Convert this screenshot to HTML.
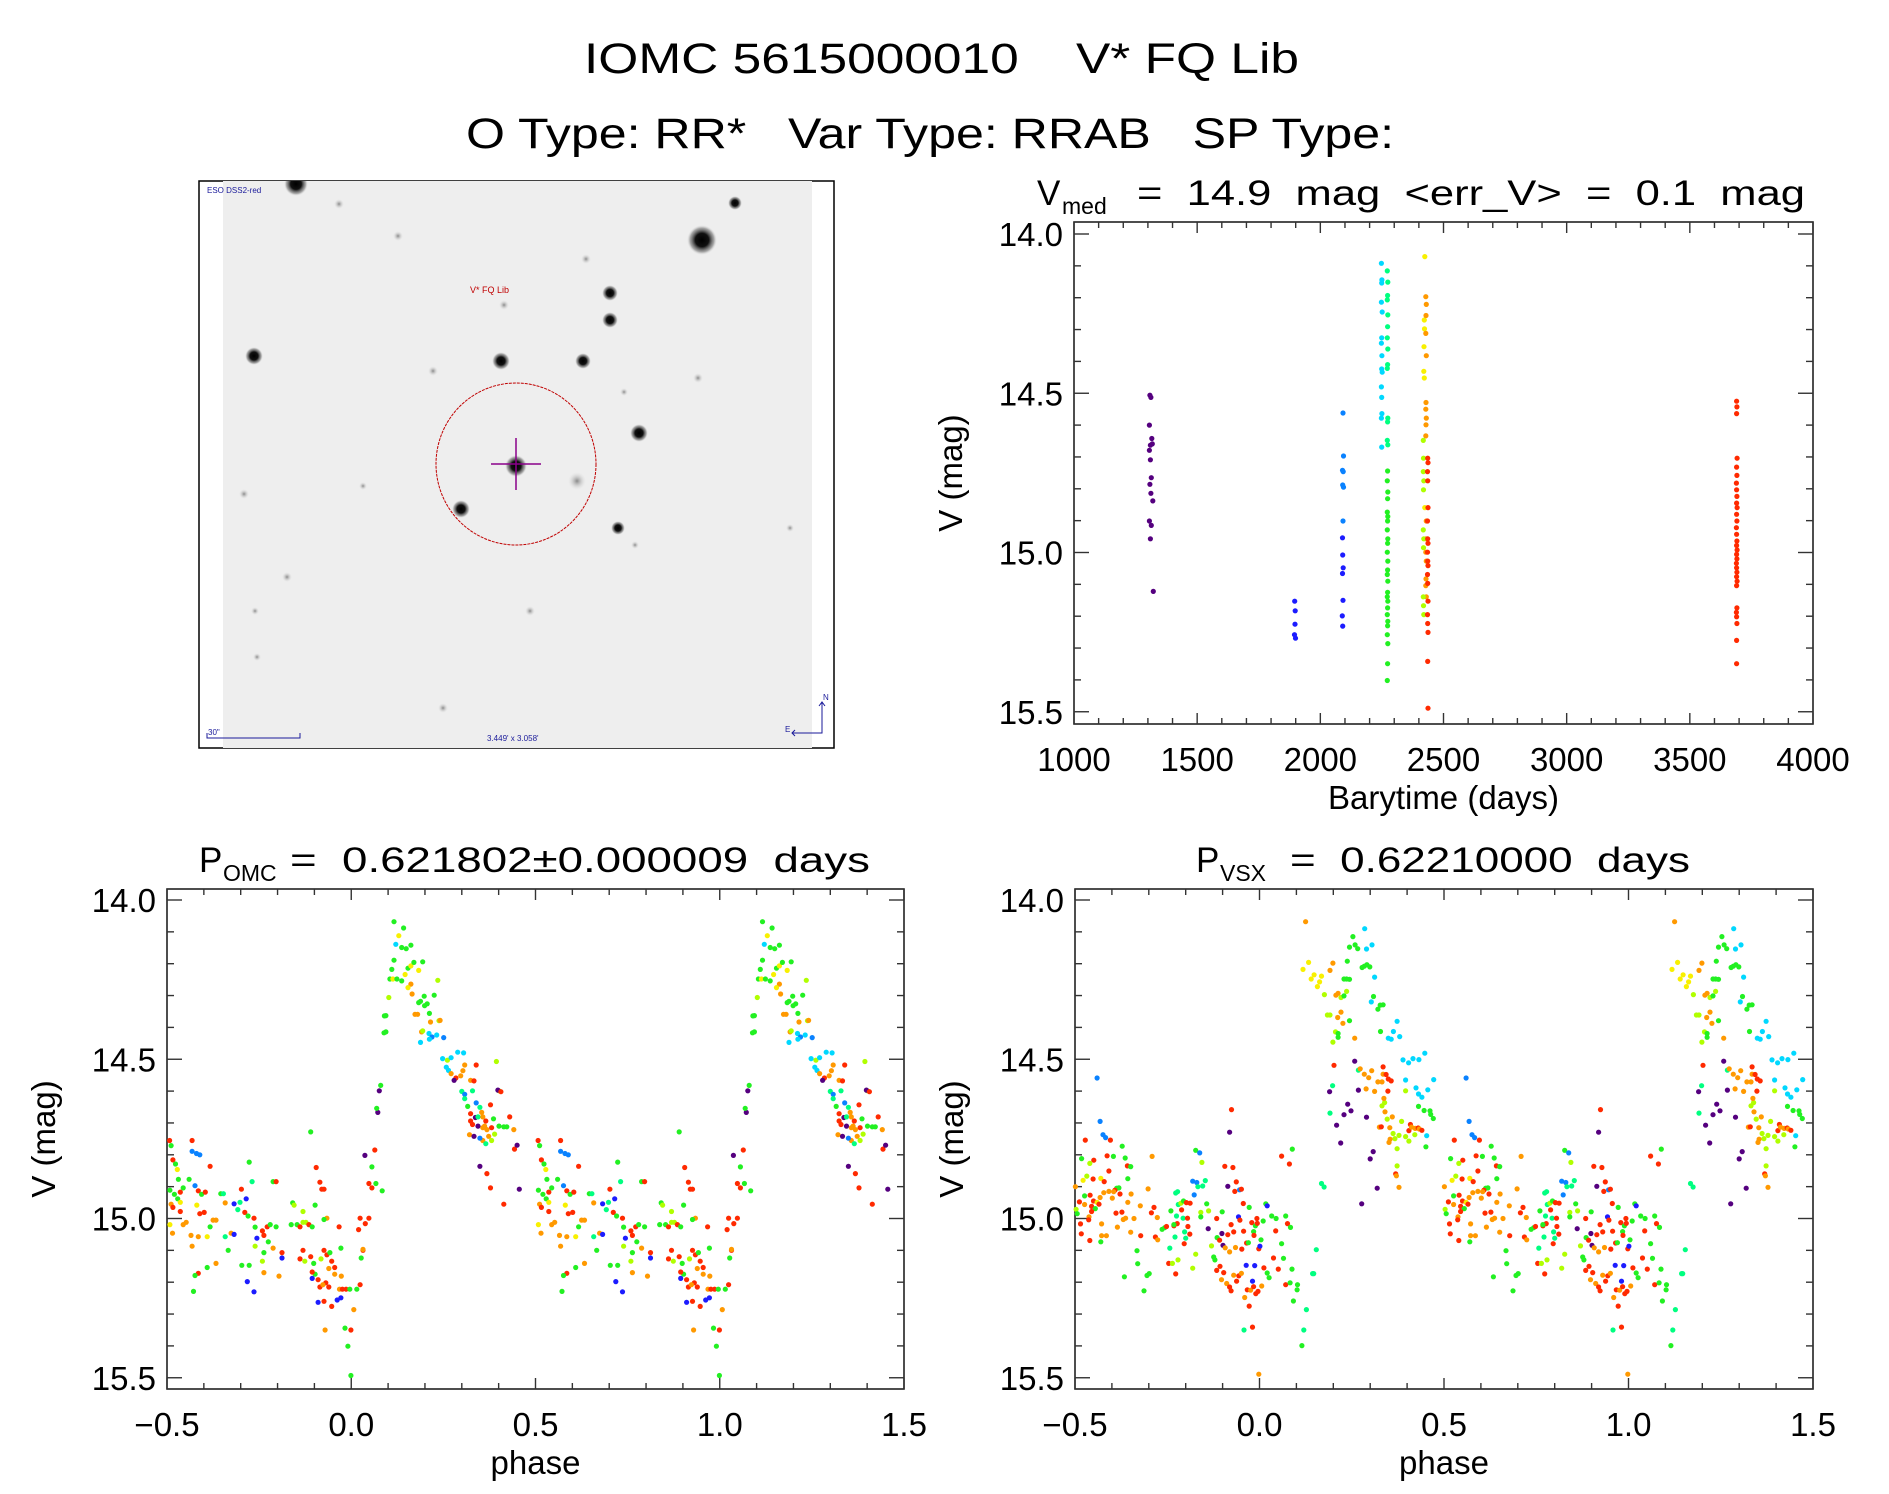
<!DOCTYPE html>
<html><head><meta charset="utf-8"><title>IOMC 5615000010 V* FQ Lib</title>
<style>
html,body{margin:0;padding:0;background:#fff;}
svg{display:block;font-family:"Liberation Sans",sans-serif;}
svg text{white-space:pre;}
</style></head>
<body>
<svg id="fig" xmlns="http://www.w3.org/2000/svg" width="1889" height="1494" viewBox="0 0 1889 1494" xml:space="preserve">
<defs>
<radialGradient id="star"><stop offset="0" stop-color="#000"/><stop offset="0.45" stop-color="#111"/><stop offset="0.8" stop-color="#777" stop-opacity="0.6"/><stop offset="1" stop-color="#ddd" stop-opacity="0"/></radialGradient>
<radialGradient id="faint"><stop offset="0" stop-color="#888"/><stop offset="1" stop-color="#ddd" stop-opacity="0"/></radialGradient>
<clipPath id="imgclip"><rect x="223" y="181" width="589" height="567"/></clipPath>
</defs>
<rect width="1889" height="1494" fill="#fff"/>
<text x="584" y="73" font-size="43" textLength="715" lengthAdjust="spacingAndGlyphs" fill="#000">IOMC 5615000010    V* FQ Lib</text>
<text x="466" y="148" font-size="43" textLength="928" lengthAdjust="spacingAndGlyphs" fill="#000">O Type: RR*   Var Type: RRAB   SP Type:</text>

<g>
<rect x="199" y="181" width="635" height="567" fill="none" stroke="#000" stroke-width="1.5"/>
<rect x="223" y="181" width="589" height="567" fill="#eeeeee"/>
<g id="stars" clip-path="url(#imgclip)"></g>
<ellipse cx="516" cy="464" rx="80" ry="81" fill="none" stroke="#c00000" stroke-width="1" stroke-dasharray="3,1"/>
<line x1="491" y1="464" x2="541" y2="464" stroke="#8a008a" stroke-width="1.5"/>
<line x1="516" y1="438" x2="516" y2="490" stroke="#8a008a" stroke-width="1.5"/>
<text x="470" y="293" font-size="9" fill="#c00000">V* FQ Lib</text>
<text x="207" y="193" font-size="8" fill="#1a1a9a">ESO DSS2-red</text>
<text x="208" y="735" font-size="8" fill="#1a1a9a">30"</text>
<path d="M207 733 V738 H300 V733" fill="none" stroke="#1a1a9a" stroke-width="1"/>
<text x="487" y="741" font-size="8" fill="#1a1a9a">3.449' x 3.058'</text>
<path d="M792 733 H822 V702 M819 706 L822 702 L825 706 M795 730 L792 733 L795 736" fill="none" stroke="#1a1a9a" stroke-width="1"/>
<text x="823" y="700" font-size="8" fill="#1a1a9a">N</text>
<text x="785" y="732" font-size="8" fill="#1a1a9a">E</text>
</g>

<g id="panel-time"></g>
<g id="panel-omc"></g>
<g id="panel-vsx"></g>

<text x="1037" y="205" font-size="35" fill="#000">V</text>
<text x="1062" y="214" font-size="23" fill="#000">med</text>
<text x="1137" y="205" font-size="35" textLength="668" lengthAdjust="spacingAndGlyphs" fill="#000">=  14.9  mag  &lt;err_V&gt;  =  0.1  mag</text>

<text x="199" y="872" font-size="35" fill="#000">P</text>
<text x="223" y="881" font-size="23" fill="#000">OMC</text>
<text x="290" y="872" font-size="35" textLength="580" lengthAdjust="spacingAndGlyphs" fill="#000">=  0.621802±0.000009  days</text>

<text x="1196" y="872" font-size="35" fill="#000">P</text>
<text x="1220" y="881" font-size="23" fill="#000">VSX</text>
<text x="1290" y="872" font-size="35" textLength="400" lengthAdjust="spacingAndGlyphs" fill="#000">=  0.62210000  days</text>
</svg>

<script>
// ---------- data ----------
const palette = {P:'#55007f',B:'#1c1cff',A:'#0a82ff',C:'#00d8ff',T:'#00ff80',G:'#22f022',L:'#b0ff00',Y:'#f8f000',O:'#ff9900',R:'#ff2a00'};

const timeDays = [
1308,1312,1306,1316,1310,1318,1306,1310,1314,1308,1312,1320,1306,1314,1310,1322,
1896,1898,1897,1895,1899,
2092,2094,2090,2093,2091,2094,2092,2090,2091,2093,2090,2092,2089,2091,
2248,2250,2249,2248,2251,2249,2248,2250,2249,2251,2248,2249,2250,2248,2249,
2272,2274,2273,2272,2274,2273,2272,2274,2273,2272,2274,2273,2272,2274,2273,2272,2274,2273,2272,2274,2273,2272,2274,2273,2272,2274,2273,2272,2274,2273,2272,2274,2273,2272,2274,2273,2272,2274,2273,2272,
2424,2422,2423,2421,2420,2422,2424,
2428,2430,2429,2428,2430,2429,2428,2430,2429,2428,2430,2429,2428,2430,2429,2428,2430,
2418,2419,2418,2420,2419,2418,2420,2419,2418,2419,2420,
2436,2437,2435,2436,2437,2435,2436,2437,2435,2436,2437,2435,2436,2437,2435,2436,2437,2436,2437,
3690,3691,3690,3692,3690,3691,3689,3690,3691,3690,3692,3690,3691,3689,3690,3691,3690,3692,3690,3691,3689,3690,3691,3690,3692,3690,3691,3689,3690,3691,3690,3690
];
const timeMags = [
14.506,14.513,14.600,14.642,14.663,14.659,14.679,14.709,14.765,14.786,14.814,14.838,14.901,14.915,14.957,15.122,
15.153,15.183,15.225,15.258,15.269,
14.562,14.697,14.742,14.746,14.788,14.795,14.901,14.954,15.008,15.048,15.066,15.150,15.199,15.231,
14.092,14.144,14.154,14.214,14.245,14.326,14.343,14.382,14.424,14.434,14.480,14.513,14.564,14.578,14.669,
14.116,14.151,14.193,14.207,14.254,14.291,14.326,14.361,14.410,14.422,14.578,14.590,14.648,14.662,14.744,14.775,14.810,14.831,14.873,14.887,14.901,14.929,14.957,14.971,14.999,15.027,15.055,15.069,15.090,15.125,15.139,15.153,15.174,15.195,15.216,15.230,15.258,15.286,15.349,15.402,
14.071,14.270,14.298,14.354,14.431,14.452,14.859,
14.197,14.221,14.256,14.312,14.382,14.529,14.550,14.578,14.599,14.634,14.901,14.957,14.999,15.027,15.083,15.104,15.139,
14.648,14.704,14.746,14.775,14.803,14.929,14.957,14.985,15.139,15.167,15.195,
14.704,14.718,14.746,14.775,14.859,14.901,14.957,14.971,14.999,15.027,15.041,15.069,15.097,15.153,15.195,15.223,15.251,15.342,15.489,
14.525,14.543,14.564,14.704,14.732,14.758,14.782,14.803,14.824,14.845,14.859,14.880,14.901,14.922,14.943,14.964,14.978,14.992,15.006,15.020,15.034,15.048,15.062,15.076,15.090,15.104,15.174,15.188,15.202,15.223,15.276,15.349
];
const timeCols =
"PPPPPPPPPPPPPPPP"+"BBBBB"+"AAAAAAABBBBBBB"+"CCCCCCCCCCCCCCC"+
"TTTTTTTTTTTTTTGGGGGGGGGGGGGGGGGGGGGGGGGG"+"YYYYYYY"+"OOOOOOOOOOOOOOOOO"+"LLLLLLLLLLL"+
"RRRRRRRRRRRRRRRRRRR"+"RRRRRRRRRRRRRRRRRRRRRRRRRRRRRRRR";

const omcPhase = [
-0.493,-0.489,-0.484,-0.477,-0.472,-0.469,-0.492,-0.480,-0.464,-0.456,-0.440,-0.432,-0.420,-0.411,-0.432,-0.383,
-0.489,-0.484,-0.471,-0.464,-0.456,-0.448,-0.492,-0.485,-0.464,-0.424,-0.415,-0.406,-0.396,-0.419,-0.411,-0.399,
-0.375,-0.367,-0.383,-0.391,-0.415,-0.435,-0.432,-0.354,-0.347,-0.342,-0.318,-0.302,-0.308,-0.298,-0.289,-0.277,
-0.269,-0.280,-0.264,-0.261,-0.256,-0.241,-0.228,-0.220,-0.212,-0.204,-0.237,-0.225,-0.204,-0.212,-0.326,-0.318,
-0.342,-0.334,-0.367,-0.391,-0.415,-0.424,-0.428,-0.297,-0.277,-0.282,-0.264,-0.285,-0.188,-0.196,-0.237,-0.241,
-0.261,-0.237,-0.188,-0.159,-0.155,-0.163,-0.147,-0.139,-0.131,-0.123,-0.115,-0.106,-0.098,-0.131,-0.110,-0.095,
-0.085,-0.080,-0.074,-0.131,-0.139,-0.126,-0.110,-0.102,-0.098,-0.106,-0.090,-0.082,-0.074,-0.066,-0.058,-0.053,
-0.045,-0.106,-0.069,-0.061,-0.085,-0.077,-0.032,-0.024,-0.014,-0.004,-0.027,-0.066,-0.074,-0.033,-0.028,0.024,
0.038,0.020,0.048,0.032,0.024,0.015,-0.045,-0.061,-0.053,-0.090,-0.074,-0.038,-0.028,-0.071,-0.017,-0.001,
0.007,-0.009,-0.001,0.027,0.032,0.037,0.056,0.064,0.048,0.056,0.084,0.067,0.072,0.069,0.080,0.076,0.089,0.094,0.090,
0.116,0.142,0.129,0.121,0.137,0.162,0.149,0.116,0.110,0.105,0.113,0.124,0.137,0.146,0.154,0.162,0.170,0.194,
0.183,0.162,0.165,0.154,0.102,0.094,0.183,0.188,0.198,0.199,0.206,0.225,0.212,0.173,0.180,0.235,0.238,0.241,
0.215,0.191,0.194,0.211,0.219,0.212,0.232,0.251,0.188,0.248,0.261,0.271,0.289,0.305,0.258,0.264,0.271,0.297,
0.303,0.308,0.324,0.333,0.339,0.284,0.279,0.300,0.308,0.329,0.308,0.316,0.339,0.349,0.378,0.324,0.337,0.344,
0.354,0.357,0.365,0.386,0.324,0.344,0.329,0.357,0.362,0.381,0.368,0.373,0.357,0.381,0.389,0.401,0.414,0.422,
0.430,0.441,0.321,0.333,0.349,0.365,0.394,0.401,0.398,0.406,0.349,0.368,0.378,0.414,0.443,0.450,0.456
];
const omcMag = [
14.755,14.771,14.816,14.829,14.846,14.877,14.911,14.924,14.917,14.904,14.877,14.789,14.796,14.800,14.755,14.836,
14.955,14.965,14.938,14.978,15.019,15.012,15.019,15.046,14.949,14.897,14.913,14.924,14.917,14.958,14.985,14.981,
15.005,15.005,15.026,15.057,15.057,15.053,15.087,14.922,14.922,14.951,14.954,14.949,14.972,14.908,14.981,14.823,
14.884,14.992,14.999,15.027,15.062,15.039,15.026,15.019,14.884,14.884,15.053,15.073,15.026,15.093,15.046,15.050,
15.057,15.100,15.141,15.154,15.172,15.179,15.229,15.147,15.147,15.198,15.230,14.938,15.124,15.181,15.170,15.134,
15.087,15.107,15.107,14.951,14.958,15.019,15.019,15.026,15.012,15.012,15.019,15.026,14.958,14.978,14.728,14.840,
14.886,14.908,14.908,15.100,15.127,15.134,15.120,15.141,15.175,15.188,15.192,15.127,15.100,15.114,15.107,15.134,
15.154,15.168,15.202,15.215,15.215,15.208,15.222,15.222,15.222,15.222,15.181,14.999,15.003,15.026,15.093,14.999,
15.016,15.035,14.999,15.100,15.208,15.222,15.175,15.157,15.276,15.263,15.260,15.256,15.249,15.350,15.344,15.350,
15.286,15.401,15.493,15.124,15.097,14.802,14.838,14.785,14.890,14.904,14.913,14.890,14.667,14.654,14.582,14.599,14.417,14.414,14.364,
14.068,14.088,14.112,14.139,14.149,14.142,14.153,14.189,14.218,14.248,14.248,14.248,14.254,14.234,14.214,14.207,14.196,14.194,
14.221,14.264,14.295,14.275,14.306,14.363,14.322,14.318,14.302,14.332,14.326,14.299,14.356,14.359,14.359,14.252,14.379,14.378,
14.383,14.414,14.411,14.419,14.430,14.437,14.424,14.432,14.447,14.498,14.503,14.495,14.478,14.480,14.525,14.535,14.545,14.552,
14.536,14.518,14.566,14.568,14.518,14.559,14.566,14.601,14.610,14.599,14.624,14.648,14.637,14.651,14.643,14.671,14.683,14.681,
14.667,14.681,14.694,14.687,14.694,14.710,14.705,14.715,14.710,14.715,14.721,14.742,14.755,14.755,14.735,14.710,14.712,14.712,
14.681,14.721,14.737,14.742,14.748,14.765,14.507,14.599,14.597,14.602,14.836,14.859,14.904,14.955,14.782,14.770,14.908
];
const omcCols =
"RGRGYGGGRGGAAARR"+"ORGROOYOYARGRYRR"+"OOGYOOOGTOBTTRRGT"+"GRGBRRGGRRGGOOBT"+"GOGRGGGGBBBBOOLLG"+
"RGLGGRLLRGGLGRRR"+"RRRLRGGBRLRRGRRR"+"RRROORRGOOGRGRRR"+"RRRGOORBRBBOGROG"+
"GGOPGRRRGGPGGPGGGGG"+
"YCGGGGGGYGGYGYGGYO"+"OYLGGGGGGGGOOLLOOO"+"LCACCACCLCCCCCOOOO"+"ORRRPTATTGATRRPTOO"+
"RGRPROOROOOLLGGGRO"+"OPATLLPRPRRRRPPRP";

const vsxPhase = [
-0.440,-0.432,-0.424,-0.417,-0.472,-0.404,-0.372,-0.482,-0.449,-0.413,-0.396,-0.364,-0.460,-0.358,-0.349,-0.408,
-0.468,-0.451,-0.430,-0.421,-0.357,-0.478,-0.499,-0.302,-0.387,-0.381,-0.392,-0.395,-0.408,-0.422,-0.378,-0.348,
-0.459,-0.474,-0.432,-0.399,-0.488,-0.450,-0.440,-0.474,-0.435,-0.357,-0.455,-0.497,-0.445,-0.455,-0.373,-0.389,
-0.494,-0.462,-0.363,-0.369,-0.340,-0.323,-0.293,-0.286,-0.277,-0.463,-0.485,-0.428,-0.385,-0.349,-0.483,-0.428,
-0.415,-0.460,-0.430,-0.322,-0.366,-0.332,-0.330,-0.313,-0.305,-0.299,-0.291,-0.282,-0.276,-0.264,-0.257,-0.252,
-0.240,-0.232,-0.225,-0.227,-0.222,-0.220,-0.213,-0.206,-0.198,-0.188,-0.211,-0.207,-0.195,-0.223,-0.232,-0.229,
-0.243,-0.246,-0.236,-0.221,-0.227,-0.203,-0.200,-0.189,-0.204,-0.194,-0.181,-0.177,-0.173,-0.162,-0.170,-0.167,
-0.154,-0.156,-0.147,-0.143,-0.159,-0.138,-0.173,-0.181,-0.159,-0.139,-0.130,-0.124,-0.121,-0.107,-0.115,-0.108,
-0.102,-0.099,-0.094,-0.086,-0.077,-0.076,-0.081,-0.072,-0.067,-0.063,-0.054,-0.049,-0.044,-0.116,-0.101,-0.093,
-0.086,-0.081,-0.070,-0.065,-0.057,-0.053,-0.048,-0.043,-0.035,-0.030,-0.028,-0.021,-0.016,-0.015,-0.011,-0.006,
-0.007,-0.002,0.001,0.004,0.010,0.017,0.021,-0.013,-0.036,-0.019,-0.004,-0.116,-0.103,-0.097,-0.089,-0.081,
-0.077,-0.070,-0.062,-0.056,-0.049,-0.040,-0.028,-0.033,-0.024,-0.016,-0.010,0.006,0.012,0.021,0.026,0.033,
0.038,0.045,0.044,0.051,0.060,0.065,0.071,0.076,0.084,0.088,0.089,0.081,0.060,0.071,0.083,0.092,0.102,0.103,
0.115,0.120,0.127,0.144,0.147,0.154,0.168,0.175,-0.042,-0.019,-0.002,
0.125,0.133,0.118,0.140,0.148,0.157,0.163,0.168,0.176,0.184,0.191,0.199,0.206,0.213,0.213,0.199,0.191,0.207,
0.213,0.221,0.229,0.221,0.226,0.236,0.229,0.236,0.244,0.238,0.244,0.253,0.259,0.266,0.285,0.290,0.305,0.278,
0.284,0.291,0.299,0.312,0.303,0.309,0.321,0.327,0.335,0.244,0.258,0.212,0.328,0.349,0.357,0.363,0.380,0.373,
0.389,0.404,0.416,0.432,0.448,0.472,0.396,0.424,0.440,0.456,0.431,0.431,0.446,0.462,0.471,0.464,0.453,0.451,
0.202,0.258,0.268,0.239,0.248,0.229,0.209,0.220,0.290,0.308,0.300,0.319,0.277,0.190,0.198,0.191,0.268,0.273,
0.284,0.296,0.304,0.289,0.312,0.321,0.332,0.335,0.343,0.335,0.349,0.357,0.348,0.332,0.339,0.340,0.346,0.360,
0.325,0.330,0.353,0.354,0.351,0.362,0.367,0.373,0.378,0.385,0.396,0.405,0.409,0.412,0.422,0.430,0.433,0.440,
0.396,0.405,0.421,0.373,0.369,0.371,0.378,0.337
];
const vsxMag = [
14.559,14.695,14.737,14.746,14.754,14.754,14.773,14.812,14.817,14.803,14.805,14.810,14.827,14.835,14.837,14.851,
14.867,14.876,14.874,14.884,14.875,14.880,14.900,14.907,14.905,14.904,14.911,14.916,14.915,14.919,14.923,14.923,
14.927,14.929,14.934,14.936,14.948,14.945,14.949,14.956,14.955,14.949,14.962,14.971,14.969,14.978,14.980,14.983,
14.985,14.995,14.999,15.003,15.000,14.960,14.982,14.965,14.997,15.004,15.017,15.017,15.027,15.043,15.048,15.054,
15.054,15.069,15.073,15.054,15.183,15.101,15.142,15.227,15.179,15.173,14.805,15.058,15.067,15.034,15.029,15.025,
14.976,15.023,14.992,14.920,14.916,14.956,14.952,14.945,14.950,14.952,14.973,14.999,14.999,15.016,15.019,15.058,
15.093,15.141,15.141,15.130,15.174,15.042,15.062,15.049,15.079,15.025,14.883,14.926,14.786,14.794,14.887,14.900,
14.898,14.824,14.881,14.954,14.981,14.976,15.112,15.156,14.995,15.032,15.086,15.121,15.130,15.150,15.060,15.068,
15.047,15.084,14.836,14.899,15.019,14.658,14.729,14.840,14.915,14.885,14.910,14.908,14.953,15.000,14.979,15.092,
15.051,15.105,15.042,15.091,14.995,15.005,15.096,15.040,15.077,15.076,14.965,15.013,15.041,15.053,15.023,15.015,
15.000,15.095,15.087,15.067,15.008,14.954,14.960,15.148,15.147,15.197,15.229,15.163,15.192,15.170,15.204,15.215,
15.227,15.178,15.197,15.180,15.172,15.248,15.275,15.224,15.225,15.214,15.236,15.212,15.155,15.171,15.186,14.992,
15.124,15.000,15.039,15.159,15.079,15.125,14.992,15.016,15.028,15.159,14.782,14.829,14.804,15.208,15.202,15.259,15.224,15.208,
15.399,15.350,15.286,15.173,15.173,15.098,14.890,14.901,15.350,15.341,15.489,
14.068,14.196,14.218,14.248,14.235,14.272,14.257,14.239,14.297,14.361,14.361,14.446,14.414,14.419,14.431,14.198,14.221,14.299,
14.293,14.306,14.301,14.352,14.387,14.287,14.248,14.248,14.249,14.192,14.148,14.115,14.141,14.153,14.090,14.154,14.141,14.212,
14.208,14.203,14.210,14.242,14.320,14.303,14.343,14.330,14.329,14.379,14.434,14.369,14.413,14.434,14.437,14.413,14.429,14.381,
14.502,14.511,14.498,14.501,14.481,14.564,14.565,14.590,14.619,14.596,14.609,14.648,14.661,14.662,14.686,14.673,14.740,14.775,
14.519,14.506,14.597,14.641,14.662,14.674,14.707,14.763,14.682,14.790,14.813,14.905,14.954,14.602,14.583,14.669,14.534,14.530,
14.547,14.558,14.536,14.593,14.601,14.571,14.571,14.547,14.548,14.524,14.562,14.568,14.600,14.646,14.636,14.665,14.688,14.681,
14.713,14.712,14.715,14.751,14.761,14.733,14.749,14.781,14.739,14.695,14.599,14.724,14.705,14.713,14.717,14.716,14.719,14.723,
14.743,14.757,14.737,14.835,14.860,14.866,14.902,14.623
];
const vsxCols =
"AAAARRGGRRGGLRGR"+"LRYRGYOOGGROOORO"+"RGOORRYORORLGRRR"+"GOOOOORRORROOORO"+"ORGRGGGGGGOROGGR"+
"GRTTTTLGRRRTRRGT"+"TRLLRTTRRRAAGAAT"+"TLTGLLLLGPLGGRGR"+"PPRPRRPRRRARRRGO"+"ROROBRRRRGGRGRGR"+
"RRBGGGBBBBRROROR"+"RORROORRORRORGGGR"+"GRRGGGRGGGRRRGGGGG"+"TTTTTTTTROO"+
"YYYYYYYLLLLLGGOOOO"+"LGOOLGGGGGGGGCCCGG"+"GGCCGGGGGOOGCCCCCC"+"CCCCCCCCCCGGGGGCGR"+
"PPPPPPPPPPPPPTTTOO"+"OOOOOOORRRRRLLOLOO"+"ROOOLLLLLLRROORORL"+"LLLROOOR";

// ---------- drawing helpers ----------
const NS = 'http://www.w3.org/2000/svg';
function mk(tag, attrs, parent) {
  const e = document.createElementNS(NS, tag);
  for (const k in attrs) e.setAttribute(k, attrs[k]);
  parent.appendChild(e);
  return e;
}
const magTicks = [14.0, 14.5, 15.0, 15.5];
const magTickLabels = ['14.0', '14.5', '15.0', '15.5'];
const timeTicks = [1000, 1500, 2000, 2500, 3000, 3500, 4000];
const timeTickLabels = ['1000', '1500', '2000', '2500', '3000', '3500', '4000'];
const phaseTicks = [-0.5, 0.0, 0.5, 1.0, 1.5];
const phaseTickLabels = ['\u22120.5', '0.0', '0.5', '1.0', '1.5'];

function makeAxes(g, box, xDom, xTicks, xLabels, xMinor, xTitle, y14) {
  const xs = v => box.l + (v - xDom[0]) / (xDom[1] - xDom[0]) * (box.r - box.l);
  const ys = m => y14 + (m - 14.0) * 318.5;
  const ax = mk('g', {}, g);
  
  
  mk('rect', {x: box.l, y: box.t, width: box.r - box.l, height: box.b - box.t, fill: 'none', stroke: '#222', 'stroke-width': 1.6}, ax);
  for (let v = xDom[0]; v <= xDom[1] + 1e-9; v += xMinor) {
    const isMajor = xTicks.some(t => Math.abs(t - v) < xMinor / 10);
    const len = isMajor ? 11 : 6;
    const x = xs(v);
    mk('line', {x1: x, x2: x, y1: box.b, y2: box.b - len, stroke: '#333', 'stroke-width': 1.4}, ax);
    mk('line', {x1: x, x2: x, y1: box.t, y2: box.t + len, stroke: '#333', 'stroke-width': 1.4}, ax);
  }
  for (let m = 13.9; m <= 15.61; m += 0.1) {
    const y = ys(m);
    if (y < box.t || y > box.b) continue;
    const isMajor = magTicks.some(t => Math.abs(t - m) < 0.01);
    const len = isMajor ? 15 : 7;
    mk('line', {x1: box.l, x2: box.l + len, y1: y, y2: y, stroke: '#333', 'stroke-width': 1.4}, ax);
    mk('line', {x1: box.r, x2: box.r - len, y1: y, y2: y, stroke: '#333', 'stroke-width': 1.4}, ax);
  }
  xTicks.forEach((v, i) => {
    const t = mk('text', {x: xs(v), y: box.b + 47, 'font-size': 33, 'text-anchor': 'middle', fill: '#000'}, ax);
    
    
    t.textContent = xLabels[i];
  });
  magTicks.forEach((m, i) => {
    const t = mk('text', {x: box.l - 11, y: ys(m) + 12, 'font-size': 33, 'text-anchor': 'end', fill: '#000'}, ax);
    
    
    t.textContent = magTickLabels[i];
  });
  const xt = mk('text', {x: (box.l + box.r) / 2, y: box.b + 85, 'font-size': 33, 'text-anchor': 'middle', fill: '#000'}, ax);
  
  
  xt.textContent = xTitle;
  const cy = (box.t + box.b) / 2;
  const yx = box.l - 112;
  const yt = mk('text', {x: yx, y: cy, 'font-size': 33, 'text-anchor': 'middle', transform: 'rotate(-90 ' + yx + ' ' + cy + ')', fill: '#000'}, ax);
  
  
  yt.textContent = 'V (mag)';
  return {xs, ys};
}

function dot(g, x, y, c) {
  const d = mk('circle', {cx: x.toFixed(1), cy: y.toFixed(1), r: 2.6, fill: c}, g);
  
  
}

(function () {
  const g = document.getElementById('panel-time');
  const box = {l: 1074, r: 1813, t: 222, b: 724};
  const s = makeAxes(g, box, [1000, 4000], timeTicks, timeTickLabels, 100, 'Barytime (days)', 234);
  const pts = mk('g', {}, g);
  
  
  for (let i = 0; i < timeDays.length; i++) {
    dot(pts, s.xs(timeDays[i]), s.ys(timeMags[i]), palette[timeCols[i]] || '#f00');
  }
})();

function phasePanel(id, box, ph, mg, cl) {
  const g = document.getElementById(id);
  const s = makeAxes(g, box, [-0.5, 1.5], phaseTicks, phaseTickLabels, 0.1, 'phase', 900);
  const pts = mk('g', {}, g);
  
  
  for (let i = 0; i < ph.length; i++) {
    for (let k = 0; k <= 1; k++) {
      const p = ph[i] + k;
      if (p < -0.5 || p > 1.5) continue;
      dot(pts, s.xs(p), s.ys(mg[i]), palette[cl[i]] || '#f00');
    }
  }
}
phasePanel('panel-omc', {l: 167, r: 904, t: 889, b: 1389}, omcPhase, omcMag, omcCols);
phasePanel('panel-vsx', {l: 1075, r: 1813, t: 889, b: 1389}, vsxPhase, vsxMag, vsxCols);

(function () {
  const g = document.getElementById('stars');
  const stars = [[702,240,15],[296,184,12],[735,203,7],[254,356,9],[501,361,9],[583,361,8],[610,293,8],[610,320,8],
    [639,433,9],[461,509,9],[516,466,11],[618,528,7],[530,611,5],[443,708,5],[287,577,5],[244,494,5],[586,259,5],
    [504,305,5],[698,378,5],[433,371,5],[398,236,5],[339,204,5],[257,657,4],[255,611,4],[790,528,4],[635,545,4],
    [624,392,4],[363,486,4],[577,481,9]];
  stars.forEach((s, i) => {
    const c = mk('circle', {cx: s[0], cy: s[1], r: s[2], fill: s[2] >= 6 && i !== 28 ? 'url(#star)' : 'url(#faint)'}, g);
    
    
  });
})();
</script>
</body></html>
